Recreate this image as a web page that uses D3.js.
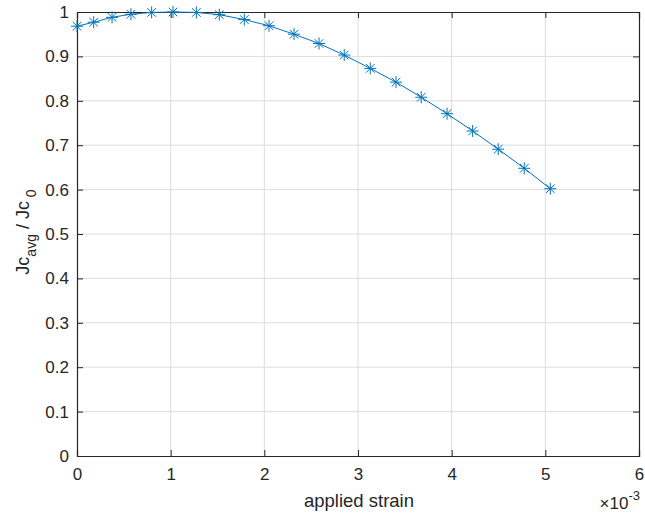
<!DOCTYPE html>
<html><head><meta charset="utf-8">
<script src="https://cdn.jsdelivr.net/npm/d3@7"></script>
<style>body{margin:0;background:#fff}svg{display:block}text{font-family:"Liberation Sans",Arial,sans-serif}</style>
</head><body>
<svg id="c" width="645" height="520"></svg>
<script>
const strain = [0, 0.178, 0.374, 0.576, 0.797, 1.025, 1.274, 1.519, 1.786, 2.05, 2.317, 2.584, 2.853, 3.131, 3.406, 3.675, 3.951, 4.224, 4.497, 4.775, 5.053];
const jcRatio = [0.968, 0.977, 0.988, 0.995, 0.999, 1.0, 0.999, 0.994, 0.983, 0.969, 0.950, 0.929, 0.903, 0.873, 0.842, 0.808, 0.771, 0.732, 0.691, 0.648, 0.602];
const xTicks = [0,1,2,3,4,5,6];
const yTicks = [0,0.1,0.2,0.3,0.4,0.5,0.6,0.7,0.8,0.9,1];

const svg = d3.select("#c");
const L=77, R=639, T=12, B=456;
const x = d3.scaleLinear().domain([0,6]).range([L,R]);
const y = d3.scaleLinear().domain([0,1]).range([B,T]);
const axCol = "#262626", blue = "#0072BD";

// grid
svg.append("g").selectAll("line").data(xTicks.slice(1,-1)).join("line")
  .attr("x1",d=>x(d)).attr("x2",d=>x(d)).attr("y1",T).attr("y2",B)
  .attr("stroke","#dcdcdc").attr("stroke-width",1);
svg.append("g").selectAll("line").data(yTicks.slice(1,-1)).join("line")
  .attr("y1",d=>y(d)).attr("y2",d=>y(d)).attr("x1",L).attr("x2",R)
  .attr("stroke","#dcdcdc").attr("stroke-width",1);

// axes
const xa = svg.append("g").attr("transform",`translate(0,${B})`)
  .call(d3.axisBottom(x).tickValues(xTicks).tickSize(-6).tickPadding(12).tickFormat(d3.format("d")));
const xt = svg.append("g").attr("transform",`translate(0,${T})`)
  .call(d3.axisTop(x).tickValues(xTicks).tickSize(-6).tickFormat(""));
const ya = svg.append("g").attr("transform",`translate(${L},0)`)
  .call(d3.axisLeft(y).tickValues(yTicks).tickSize(-6).tickPadding(8).tickFormat(d=>d===0||d===1?String(d):d3.format(".1f")(d)));
const yr = svg.append("g").attr("transform",`translate(${R},0)`)
  .call(d3.axisRight(y).tickValues(yTicks).tickSize(-6).tickFormat(""));
[xa,xt,ya,yr].forEach(g=>{
  g.select(".domain").attr("stroke",axCol).attr("stroke-width",1.2);
  g.selectAll(".tick line").attr("stroke",axCol).attr("stroke-width",1);
  g.selectAll(".tick text").attr("fill",axCol).style("font-size","17px").style("font-family",'"Liberation Sans",Arial,sans-serif');
});

// line
svg.append("path").datum(strain.map((s,i)=>[s,jcRatio[i]]))
  .attr("d",d3.line().x(d=>x(d[0])).y(d=>y(d[1])))
  .attr("fill","none").attr("stroke",blue).attr("stroke-width",1);

// asterisk markers
const m = 6, dg = 4.3;
const mk = svg.append("g").selectAll("g").data(strain.map((s,i)=>[s,jcRatio[i]])).join("g")
  .attr("transform",d=>`translate(${x(d[0])},${y(d[1])})`);
mk.append("path").attr("d",`M${-m},0H${m}M0,${-m}V${m}M${-dg},${-dg}L${dg},${dg}M${-dg},${dg}L${dg},${-dg}`)
  .attr("stroke",blue).attr("stroke-width",1).attr("fill","none");

// labels
svg.append("text").attr("x",(L+R)/2+1).attr("y",507).attr("text-anchor","middle")
  .attr("fill",axCol).style("font-size","18.5px").text("applied strain");
const ex = svg.append("text").attr("x",640).attr("y",509).attr("text-anchor","end").attr("fill",axCol).style("font-size","17px");
ex.append("tspan").text("×10");
ex.append("tspan").attr("dy",-9).style("font-size","13px").text("-3");

const yl = svg.append("text").attr("transform","translate(29,232) rotate(-90)").attr("text-anchor","middle")
  .attr("fill",axCol).style("font-size","18px");
yl.append("tspan").text("Jc");
yl.append("tspan").attr("dy",7).style("font-size","14px").text("avg");
yl.append("tspan").attr("dy",-7).text(" / Jc");
yl.append("tspan").attr("dy",7).style("font-size","14px").text(" 0");
</script>
</body></html>
